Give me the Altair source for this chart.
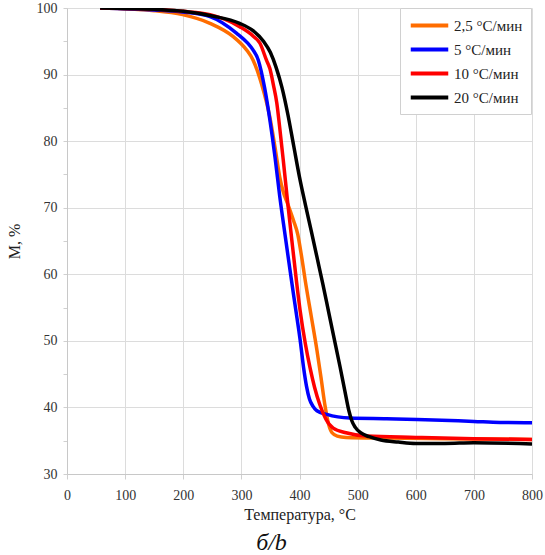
import altair as alt
import pandas as pd

series_names = ["2,5 °C/мин", "5 °C/мин", "10 °C/мин", "20 °C/мин"]
series_colors = ["#ff6d00", "#0000ff", "#ff0000", "#000000"]

t_orange = [57, 150, 199, 246, 286, 309, 320, 335, 349, 358, 366, 372, 380, 390, 397, 403, 410, 420, 430, 437, 444, 450, 456, 465, 480, 550, 650, 800]
m_orange = [100, 99.6, 99.0, 97.7, 95.7, 93.7, 92.2, 88.5, 83.6, 79, 74.6, 72.4, 70.5, 68.0, 66.0, 63.0, 59.0, 53.8, 48.6, 44.5, 40.2, 37.5, 36.2, 35.7, 35.5, 35.4, 35.3, 35.2]

t_blue = [57, 150, 199, 246, 292, 310, 320, 329, 340, 349, 358, 366, 375, 385, 393, 401, 407, 412, 417, 423, 430, 447, 487, 550, 602, 700, 745, 800]
m_blue = [100, 99.7, 99.4, 98.7, 96.2, 94.8, 93.7, 92.2, 88, 83.2, 77.5, 71.7, 66, 59.8, 55, 50.2, 46, 43.2, 41.3, 40.2, 39.5, 38.95, 38.4, 38.3, 38.2, 37.9, 37.75, 37.7]

t_red = [57, 150, 200, 246, 297, 320, 332, 343, 349, 355, 361, 366, 372, 380, 388, 395, 401, 410, 418, 426, 435, 445, 458, 480, 516, 600, 700, 800]
m_red = [100, 99.8, 99.5, 99.0, 97.2, 95.8, 94.7, 92.2, 90.9, 88.5, 85.7, 82.0, 77.2, 70.5, 64.2, 58.8, 54.6, 49.6, 46.0, 43.0, 40.4, 38.3, 36.9, 36.2, 35.7, 35.5, 35.3, 35.2]

t_black = [57, 150, 200, 250, 297, 320, 338, 350, 360, 370, 380, 390, 400, 410, 420, 430, 440, 450, 460, 470, 478, 485, 490, 496, 505, 520, 540, 570, 600, 650, 700, 800]
m_black = [100, 99.8, 99.5, 98.8, 97.7, 96.6, 95.0, 93.3, 91.0, 88.0, 84.0, 79.3, 74.6, 70.5, 66.6, 62.6, 58.6, 54.4, 50.2, 46.0, 42.5, 39.5, 38.0, 37.0, 36.2, 35.6, 35.1, 34.8, 34.6, 34.6, 34.7, 34.5]

rows = []
for name, ts, ms in zip(series_names, [t_orange, t_blue, t_red, t_black], [m_orange, m_blue, m_red, m_black]):
    for t, m in zip(ts, ms):
        rows.append({"T": t, "M": m, "series": name})
df = pd.DataFrame(rows)

serif = "Liberation Serif"

chart = alt.Chart(df).mark_line(strokeWidth=3.5, interpolate="monotone", clip=True).encode(
    x=alt.X("T:Q", scale=alt.Scale(domain=[0, 800], nice=False),
            axis=alt.Axis(title="Температура, °C", values=list(range(0, 801, 100)),
                          labelFont=serif, titleFont=serif,
                          labelFontSize=14, labelColor="#333333",
                          titleFontSize=16, titleFontWeight="normal", titleColor="#222222",
                          titlePadding=4, labelPadding=9, tickSize=5, tickColor="#d0d0d0",
                          domainColor="#c8c8c8", gridColor="#dcdcdc", labelFlush=False)),
    y=alt.Y("M:Q", scale=alt.Scale(domain=[30, 100], nice=False),
            axis=alt.Axis(title="M, %", values=list(range(30, 101, 5)),
                          labelExpr="datum.value % 10 === 0 ? datum.label : ''",
                          gridOpacity=alt.condition("datum.value % 10 === 0", alt.value(1), alt.value(0)),
                          labelFont=serif, titleFont=serif,
                          labelFontSize=14, labelColor="#333333",
                          titleFontSize=16, titleFontWeight="normal", titleColor="#222222",
                          titlePadding=14, labelPadding=6, tickSize=4, tickColor="#d0d0d0",
                          domainColor="#c8c8c8", gridColor="#dcdcdc")),
    color=alt.Color("series:N", sort=series_names,
                    scale=alt.Scale(domain=series_names, range=series_colors),
                    legend=alt.Legend(orient="none", legendX=333, legendY=0, title=None,
                                      symbolType="M-2.5,0H2.5", symbolSize=225, symbolStrokeWidth=4,
                                      symbolOffset=12, labelFont=serif,
                                      labelFontSize=15, labelColor="#222222",
                                      fillColor="white", strokeColor="#d0d0d0", padding=8,
                                      rowPadding=6, labelOffset=15)),
).properties(
    width=465, height=466,
    autosize=alt.AutoSizeParams(type="none"),
    padding={"left": 67, "top": 8, "right": 13, "bottom": 81},
    title=alt.TitleParams(text="б/b", orient="bottom", fontSize=24, fontStyle="italic",
                          font=serif,
                          fontWeight="normal", color="#111111", dx=-28, offset=9),
).configure_view(stroke=None)

chart.save("out.html", embed_options={"renderer": "svg", "actions": False})
